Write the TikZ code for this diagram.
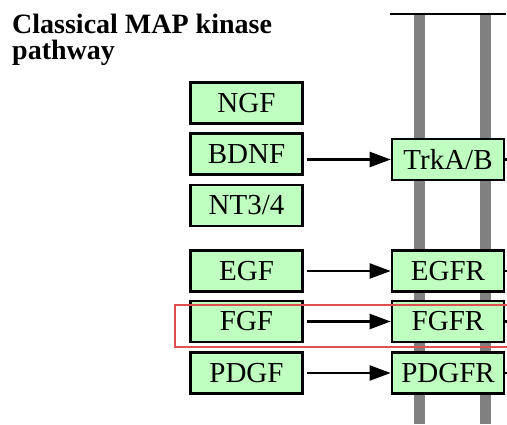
\documentclass[tikz,border=0pt]{standalone}
\usepackage{fontspec}
\setmainfont{Liberation Serif}
\usetikzlibrary{arrows.meta}

\definecolor{genegreen}{HTML}{BFFFBF}
\definecolor{membrane}{HTML}{808080}
\definecolor{hilite}{HTML}{E05050}

\begin{document}
\begin{tikzpicture}[
  x=1pt,
  y=-1pt,
  gene/.style={
    draw=black,
    fill=genegreen,
    minimum width=112pt,
    minimum height=41pt,
    inner sep=0pt,
    line width=2.6pt,
    font=\fontsize{29}{32}\selectfont
  },
  title/.style={font=\fontsize{28}{26}\selectfont\bfseries, align=left, inner sep=0pt, anchor=north west},
  act/.style={-{Triangle[length=21pt,width=15pt]}, line width=2.2pt, shorten <=3pt},
  stub/.style={line width=2.2pt},
  bar/.style={line width=11pt, draw=membrane}
]
\useasboundingbox (0,0) rectangle (507,424);

% membrane
\draw[bar] (419,15) -- (419,424);
\draw[bar] (485,15) -- (485,424);
\draw[stub] (390,14) -- (506,14);

\node[title] (ttl) at (12,14) {Classical MAP kinase\\pathway};

\node[gene] (NGF)  at (246.5,103)   {NGF};
\node[gene] (BDNF) at (246.5,154)   {BDNF};
\node[gene] (NT34) at (246.5,205.5) {NT3/4};
\node[gene] (EGF)  at (246.5,271)   {EGF};
\node[gene] (FGF)  at (246.5,321.5) {FGF};
\node[gene] (PDGF) at (246.5,373)   {PDGF};

\node[gene] (TrkAB) at (448,159.5) {TrkA/B};
\node[gene] (EGFR)  at (448,271)   {EGFR};
\node[gene] (FGFR)  at (448,321.5) {FGFR};
\node[gene] (PDGFR) at (448,373)   {PDGFR};

\coordinate (edge) at (507,0);

\draw[act] (BDNF.east |- TrkAB) -- (TrkAB);
\draw[act] (EGF) -- (EGFR);
\draw[act] (FGF) -- (FGFR);
\draw[act] (PDGF) -- (PDGFR);

\foreach \r in {TrkAB,EGFR,FGFR,PDGFR}
  \draw[stub] (\r.east) -- (\r.east -| edge);

% highlight
\draw[hilite, line width=1.2pt] (175,305) rectangle (508,347);
\end{tikzpicture}
\end{document}
